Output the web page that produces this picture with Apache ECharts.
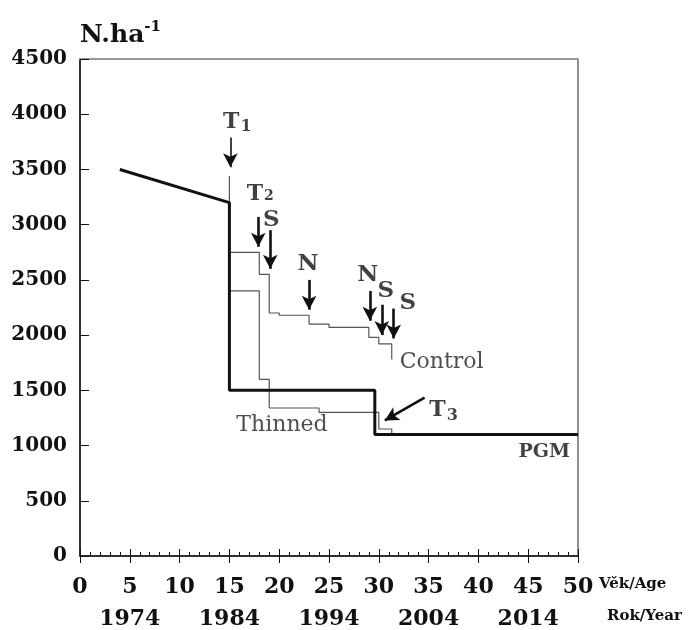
<!DOCTYPE html>
<html>
<head>
<meta charset="utf-8">
<script src="https://cdn.jsdelivr.net/npm/echarts@6/dist/echarts.min.js"></script>
<style>
  html, body { margin: 0; padding: 0; background: #fff; }
  #chartId { width: 690px; height: 630px; }
</style>
</head>
<body>
<div id="chartId"></div>
<script>
// PGM model (thick line)
const pgmAge = [4, 15, 15, 29.6, 29.6, 50];
const pgmN = [3500, 3200, 1500, 1500, 1100, 1100];

// control plot, steps
const controlAge = [15, 15, 18, 19, 20, 23, 25, 29, 30, 31.3];
const controlN = [3440, 2750, 2550, 2200, 2180, 2100, 2070, 1980, 1920, 1780];

// thinned plot, steps
const thinnedAge = [15, 18, 19, 24, 30, 31.3];
const thinnedN = [2400, 1600, 1340, 1300, 1150, 1100];

// year row under the age axis
const yearAges = [5, 15, 25, 35, 45];
const yearLabels = ['1974', '1984', '1994', '2004', '2014'];

// arrows: start and tip
const arrowFrom = [[15.1, 3790], [17.9, 3070], [19.1, 2950], [23.0, 2500], [29.1, 2400], [30.3, 2275], [31.5, 2240], [34.6, 1434]];
const arrowTo = [[15.1, 3520], [17.9, 2800], [19.1, 2600], [23.0, 2230], [29.1, 2130], [30.3, 2000], [31.5, 1970], [30.6, 1227]];

// text notes
const noteText = ['{t|T}{s|1}', '{t|T}{s2|2}', 'S', 'N', 'N', 'S', 'S', '{t|T}{s|3}', 'Control', 'Thinned', 'PGM'];
const notePos = [[15.8, 3927], [18.1, 3279], [19.2, 3045], [22.9, 2640], [28.9, 2541], [30.7, 2397], [32.9, 2289], [36.5, 1318], [32.1, 1757], [15.7, 1182], [49.2, 939]];
const noteAlign = ['center', 'center', 'center', 'center', 'center', 'center', 'center', 'center', 'left', 'left', 'right'];

const F = 'DejaVu Serif';

function zip(a, b) {
  return a.map((v, i) => [v, b[i]]);
}

let chart = echarts.init(document.getElementById('chartId'), null, { renderer: 'canvas' });

/**
 * notes as a scatter without symbols
 */
function getNotes() {
  return notePos.map((p, i) => {
    let plain = noteText[i] === 'Control' || noteText[i] === 'Thinned';
    return {
      value: p,
      label: {
        formatter: noteText[i],
        align: noteAlign[i],
        fontWeight: plain ? 'normal' : 'bold',
        color: plain ? '#222' : '#111',
        fontSize: plain ? 22 : (noteText[i] === 'PGM' ? 19 : 23)
      }
    };
  });
}

function getArrows() {
  return arrowFrom.map((p, i) => [
    { coord: p, lineStyle: { width: i === 0 ? 1.6 : 2.6 } },
    { coord: arrowTo[i] }
  ]);
}

let option = {
  animation: false,
  backgroundColor: '#fff',
  grid: { left: 80, right: 112, top: 59, bottom: 71, show: true, borderColor: '#222', borderWidth: 1 },
  graphic: [
    { type: 'text', left: 599, top: 577, style: { text: 'Věk/Age', font: 'bold 15px "DejaVu Serif"', fill: '#111' } },
    { type: 'text', left: 607, top: 609, style: { text: 'Rok/Year', font: 'bold 15px "DejaVu Serif"', fill: '#111' } }
  ],
  xAxis: [
    {
      type: 'value', min: 0, max: 50, interval: 5, position: 'bottom',
      axisLine: { show: true, onZero: false, lineStyle: { color: '#111', width: 1.5 } },
      axisTick: { show: true, inside: true, length: 7, lineStyle: { color: '#111' } },
      minorTick: { show: true, splitNumber: 5, length: 4, lineStyle: { color: '#111' } },
      axisLabel: { margin: 20, fontFamily: F, fontWeight: 'bold', fontSize: 22, color: '#111' },
      splitLine: { show: false }
    },
    {
      type: 'value', min: 0, max: 50, interval: 5, position: 'bottom',
      axisLine: { show: false, onZero: false },
      axisTick: { show: true, inside: false, length: 7, lineStyle: { color: '#111' } },
      axisLabel: { show: false },
      splitLine: { show: false }
    },
    {
      type: 'value', min: 0, max: 50, interval: 5, position: 'bottom', offset: 50,
      axisLine: { show: false, onZero: false },
      axisTick: { show: false },
      axisLabel: {
        margin: 2, fontFamily: F, fontWeight: 'bold', fontSize: 22, color: '#111',
        formatter: function (v) {
          let k = yearAges.indexOf(v);
          return k < 0 ? '' : yearLabels[k];
        }
      },
      splitLine: { show: false }
    },
    {
      type: 'value', min: 0, max: 50, position: 'top',
      axisLine: { show: true, onZero: false, lineStyle: { color: '#999', width: 2 } },
      axisTick: { show: false }, axisLabel: { show: false }, splitLine: { show: false }
    }
  ],
  yAxis: [
    {
      type: 'value', min: 0, max: 4500, interval: 500,
      axisLine: { show: true, lineStyle: { color: '#111', width: 1.5 } },
      axisTick: { show: true, inside: true, length: 9, lineStyle: { color: '#111' } },
      axisLabel: {
        margin: 13, fontFamily: F, fontWeight: 'bold', fontSize: 20, color: '#111',
        formatter: function (v) { return String(v); }
      },
      splitLine: { show: false },
      name: '{n|N.ha}{p|-1}', nameLocation: 'end', nameGap: 14,
      nameTextStyle: {
        align: 'left', verticalAlign: 'bottom',
        rich: {
          n: { fontFamily: F, fontWeight: 'bold', fontSize: 25, lineHeight: 25, color: '#111', padding: [6, 0, 0, 0] },
          p: { fontFamily: F, fontWeight: 'bold', fontSize: 15, lineHeight: 15, color: '#111', verticalAlign: 'top' }
        }
      }
    }
  ],
  series: [
    {
      name: 'Control', type: 'line', step: 'end', showSymbol: false, symbol: 'none',
      data: zip(controlAge, controlN),
      lineStyle: { color: '#555', width: 1.2 }
    },
    {
      name: 'Thinned', type: 'line', step: 'end', showSymbol: false, symbol: 'none',
      data: zip(thinnedAge, thinnedN),
      lineStyle: { color: '#555', width: 1.2 }
    },
    {
      name: 'PGM', type: 'line', showSymbol: false, symbol: 'none',
      data: zip(pgmAge, pgmN),
      lineStyle: { color: '#111', width: 3 }
    },
    {
      name: 'notes', type: 'scatter', symbolSize: 0, silent: true, z: 5,
      data: getNotes(),
      label: {
        show: true, position: 'inside', color: '#111', fontFamily: F, verticalAlign: 'middle',
        rich: {
          t: { fontFamily: F, fontWeight: 'bold', fontSize: 22, lineHeight: 22, color: '#111', verticalAlign: 'top' },
          s: { fontFamily: F, fontWeight: 'bold', fontSize: 16, lineHeight: 16, color: '#111', padding: [10, 0, 0, 1] },
          s2: { fontFamily: F, fontWeight: 'bold', fontSize: 14, lineHeight: 14, color: '#111', padding: [6, 0, 0, 1] }
        }
      },
      markLine: {
        silent: true, symbol: ['none', 'arrow'], symbolSize: [11, 14],
        label: { show: false },
        lineStyle: { color: '#111', type: 'solid', width: 2.6 },
        data: getArrows()
      }
    }
  ]
};

chart.setOption(option);
</script>
</body>
</html>
